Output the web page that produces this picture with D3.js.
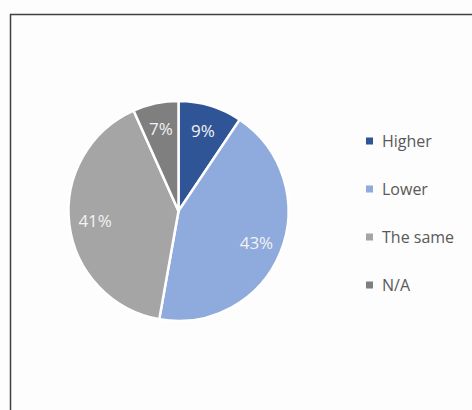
<!DOCTYPE html>
<html>
<head>
<meta charset="utf-8">
<script src="https://cdn.jsdelivr.net/npm/d3@7"></script>
<style>
  html, body { margin: 0; padding: 0; background: #fdfdfd; }
  svg { display: block; }
</style>
</head>
<body>
<script>
// shares in percent, labels show them rounded
const categories = ["Higher", "Lower", "The same", "N/A"]
const values = [9.4, 43.4, 40.5, 6.7]
const colors = ["#2f5597", "#8faadc", "#a5a5a5", "#7f7f7f"]

const width = 472, height = 410
const cx = 178.5, cy = 211, radius = 110

const svg = d3.select("body").append("svg")
  .attr("width", width)
  .attr("height", height)

// chart frame, runs off the right and bottom of the shot
svg.append("rect")
  .attr("x", 10.5)
  .attr("y", 14.5)
  .attr("width", 500)
  .attr("height", 500)
  .attr("fill", "#fdfdfd")
  .attr("stroke", "#404040")
  .attr("stroke-width", 1.5)

const data = categories.map((c, i) => ({ name: c, value: values[i], color: colors[i] }))

const pie = d3.pie().value(d => d.value).sort(null)
const arc = d3.arc().innerRadius(0).outerRadius(radius)
const labelArc = d3.arc().innerRadius(84).outerRadius(84)
const total = d3.sum(values)

const g = svg.append("g").attr("transform", "translate(" + cx + "," + cy + ")")
const arcs = pie(data)

g.selectAll("path")
  .data(arcs)
  .join("path")
  .attr("d", arc)
  .attr("fill", d => d.data.color)
  .attr("stroke", "#ffffff")
  .attr("stroke-width", 2.5)
  .attr("stroke-linejoin", "round")

g.selectAll("text")
  .data(arcs)
  .join("text")
  .attr("transform", d => "translate(" + labelArc.centroid(d) + ")")
  .attr("text-anchor", "middle")
  .attr("dy", "0.36em")
  .attr("fill", "#f2f2f2")
  .style("font-family", "'Open Sans', sans-serif")
  .style("font-size", "17px")
  .text(d => d3.format(".0%")(d.data.value / total))

const legendY = d3.scaleBand().domain(categories).range([117, 309])

const legend = svg.append("g")
const item = legend.selectAll("g")
  .data(data)
  .join("g")
  .attr("transform", d => "translate(366," + (legendY(d.name) + legendY.bandwidth() / 2) + ")")

item.append("rect")
  .attr("x", 0)
  .attr("y", -3.5)
  .attr("width", 7)
  .attr("height", 7)
  .attr("fill", d => d.color)

item.append("text")
  .attr("x", 16)
  .attr("dy", "0.36em")
  .attr("fill", "#595959")
  .style("font-family", "'Open Sans', sans-serif")
  .style("font-size", "16px")
  .text(d => d.name)
</script>
</body>
</html>
